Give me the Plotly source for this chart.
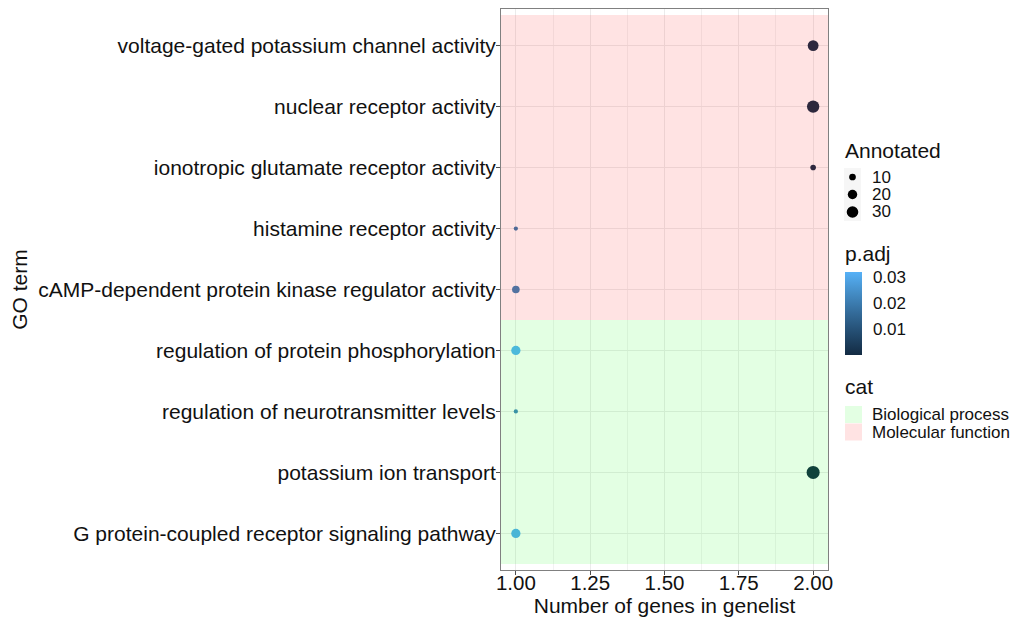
import plotly.graph_objects as go

# GO enrichment results (bottom-to-top order on the y axis)
go_terms = [
    "G protein-coupled receptor signaling pathway",
    "potassium ion transport",
    "regulation of neurotransmitter levels",
    "regulation of protein phosphorylation",
    "cAMP-dependent protein kinase regulator activity",
    "histamine receptor activity",
    "ionotropic glutamate receptor activity",
    "nuclear receptor activity",
    "voltage-gated potassium channel activity",
]
genes_in_list = [1, 2, 1, 1, 1, 1, 2, 2, 2]
annotated = [19, 38, 4, 19, 13, 4, 7, 34, 26]
p_adj = [0.031, 0.0002, 0.022, 0.032, 0.021, 0.019, 0.001, 0.0006, 0.0009]
category = ["Biological process"] * 4 + ["Molecular function"] * 5

size_breaks = [10, 20, 30]
padj_breaks = [0.01, 0.02, 0.03]
cat_levels = ["Biological process", "Molecular function"]
cat_fill = {"Biological process": "rgba(0,255,0,0.11)",
            "Molecular function": "rgba(255,0,0,0.11)"}

FONT = "Liberation Sans, Arial, sans-serif"
TXT = "#111111"

W, H = 1014, 619
ML, MR, MT, MB = 501, 186, 9, 49
PW, PH = W - ML - MR, H - MT - MB


def px_x(px):
    return (px - ML) / PW


def px_y(py):
    return 1 - (py - MT) / PH


def point_diameter(n):
    # area-proportional bubble sizing
    return 2.12 * n ** 0.5


colorscale = [
    [0.0, "#132B43"],
    [0.25, "#224A6D"],
    [0.5, "#336A98"],
    [0.75, "#448DC6"],
    [1.0, "#56B1F7"],
]

fig = go.Figure()

fig.add_trace(go.Scatter(
    x=genes_in_list,
    y=go_terms,
    mode="markers",
    marker=dict(
        size=[point_diameter(a) for a in annotated],
        color=p_adj,
        colorscale=colorscale,
        cmin=min(p_adj),
        cmax=max(p_adj),
        line=dict(width=0),
        opacity=1,
        colorbar=dict(
            x=px_x(845), xanchor="left", xpad=0,
            y=px_y(313.5), yanchor="middle",
            len=83, lenmode="pixels",
            thickness=17, outlinewidth=0,
            tickvals=padj_breaks,
            ticktext=[f"{v:.2f}" for v in padj_breaks],
            ticks="outside", ticklen=8, tickcolor="rgba(0,0,0,0)",
            tickfont=dict(size=17, family=FONT, color=TXT),
            ypad=0,
        ),
    ),
    showlegend=False,
    hoverinfo="skip",
))

# category background bands, drawn over the points with transparency
for c in cat_levels:
    idx = [i for i, v in enumerate(category) if v == c]
    fig.add_shape(
        type="rect", xref="paper", yref="y",
        x0=0, x1=1, y0=min(idx) - 0.5, y1=max(idx) + 0.5,
        fillcolor=cat_fill[c], line=dict(width=0), layer="above",
    )

annotations = []


def legend_text(text, x, y, size):
    annotations.append(dict(
        text=text, xref="paper", yref="paper", x=px_x(x), y=px_y(y),
        xanchor="left", yanchor="middle", showarrow=False,
        font=dict(size=size, family=FONT, color=TXT),
    ))


# --- size legend ("Annotated")
legend_text("Annotated", 843, 150, 21)
key_y = [177, 194.5, 212]
fig.add_shape(type="rect", xref="paper", yref="paper",
              x0=px_x(844), x1=px_x(861), y0=px_y(168), y1=px_y(221),
              fillcolor="#F6F6F6", line=dict(width=0))
for b, ky in zip(size_breaks, key_y):
    r = point_diameter(b) / 2
    fig.add_shape(type="circle", xref="paper", yref="paper",
                  xsizemode="pixel", ysizemode="pixel",
                  xanchor=px_x(852.5), yanchor=px_y(ky),
                  x0=-r, x1=r, y0=-r, y1=r,
                  fillcolor="black", line=dict(width=0))
    legend_text(str(b), 870, ky, 17)

# --- colour bar title
legend_text("p.adj", 843, 253, 21)

# --- category legend ("cat")
legend_text("cat", 843, 386, 21)
for c, ky in zip(cat_levels, [414.5, 432]):
    fig.add_shape(type="rect", xref="paper", yref="paper",
                  x0=px_x(845), x1=px_x(862), y0=px_y(ky - 8.5), y1=px_y(ky + 8.5),
                  fillcolor=cat_fill[c], line=dict(width=0))
    legend_text(c, 870, ky, 17)

fig.update_layout(
    width=W, height=H,
    margin=dict(l=ML, r=MR, t=MT, b=MB, autoexpand=False),
    paper_bgcolor="white",
    plot_bgcolor="white",
    font=dict(family=FONT, color=TXT),
    showlegend=False,
    annotations=annotations,
    xaxis=dict(
        range=[0.95, 2.05],
        tick0=1, dtick=0.25, tickformat=".2f",
        showgrid=True, gridcolor="#EBEBEB", gridwidth=1.1,
        minor=dict(dtick=0.125, showgrid=True, gridcolor="#F2F2F2",
                   gridwidth=0.6),
        zeroline=False, automargin=False,
        showline=True, linecolor="#808080", linewidth=1, mirror=True,
        ticks="outside", ticklen=4, tickcolor="#4d4d4d",
        ticklabelstandoff=-10,
        tickfont=dict(size=20.5, family=FONT, color=TXT),
        title=dict(text="Number of genes in genelist", standoff=3,
                   font=dict(size=21, family=FONT, color=TXT)),
    ),
    yaxis=dict(
        type="category",
        categoryorder="array", categoryarray=go_terms,
        range=[-0.6, len(go_terms) - 0.4],
        showgrid=True, gridcolor="#EBEBEB", gridwidth=1.1,
        zeroline=False, automargin=False,
        showline=True, linecolor="#808080", linewidth=1, mirror=True,
        ticks="outside", ticklen=4, tickcolor="#4d4d4d",
        ticklabelstandoff=-4,
        tickfont=dict(size=21, family=FONT, color=TXT),
        title=dict(text="GO term", standoff=4,
                   font=dict(size=21, family=FONT, color=TXT)),
    ),
)

fig.write_html("out.html")
